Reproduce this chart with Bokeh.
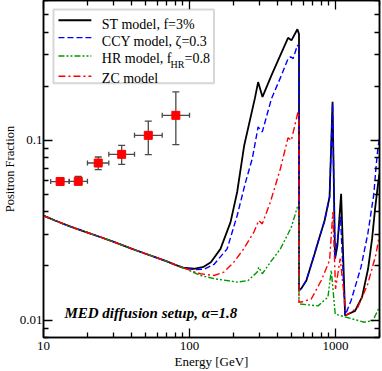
import math
from bokeh.plotting import figure
from bokeh.models import (LogAxis, FixedTicker, CustomJSTickFormatter, Whisker, TeeHead,
                          ColumnDataSource, Label, BoxAnnotation, Range1d, Title)
from bokeh.embed import file_html
from bokeh.resources import INLINE

# ---------------- data ----------------
common_E = [10, 12, 15, 20, 25, 30, 40, 50, 60, 70, 80, 90]
common_F = [0.0381, 0.0358, 0.0333, 0.0307, 0.0288, 0.0273, 0.0250, 0.0234, 0.0222, 0.0212, 0.0203, 0.0196]

st_E = [107, 125, 140, 163, 191, 212, 237, 280, 295, 316, 364, 404, 473, 499, 548, 562, 562,
        583, 631, 719, 759, 842, 910, 954, 992, 1030, 1092, 1163, 1361, 1520, 1671, 1779, 1866, 1955, 2000]
st_F = [0.0193, 0.0198, 0.0210, 0.0249, 0.0351, 0.0516, 0.094, 0.1706, 0.211, 0.1745, 0.230, 0.279,
        0.372, 0.360, 0.415, 0.39, 0.0146, 0.0150, 0.0166, 0.0234, 0.0272, 0.0358, 0.0484, 0.1637,
        0.0220, 0.0260, 0.0504, 0.0106, 0.01125, 0.01346, 0.0193, 0.0283, 0.0417, 0.0574, 0.065]

ccy_E = [107, 126, 147, 181, 212, 242, 269, 295, 315, 364, 426, 473, 493, 512, 548, 562, 562,
         583, 631, 719, 759, 842, 910, 954, 992, 1081, 1163, 1278, 1494, 1663, 1828, 1896, 1955, 2000]
ccy_F = [0.0191, 0.0192, 0.0204, 0.0249, 0.0382, 0.0586, 0.0791, 0.1188, 0.1114, 0.1706, 0.230,
         0.285, 0.292, 0.285, 0.338, 0.33, 0.0146, 0.0150, 0.0166, 0.0234, 0.0272, 0.0358, 0.0484,
         0.160, 0.0220, 0.0376, 0.0106, 0.01285, 0.0197, 0.0302, 0.050, 0.072, 0.092, 0.102]

hr_E = [107, 119, 149, 212, 252, 291, 298, 315, 358, 419, 473, 499, 548, 562, 562,
        759, 887, 935, 995, 1183, 1578, 1801, 1945, 2000]
hr_F = [0.0184, 0.0177, 0.01697, 0.01627, 0.0166, 0.0185, 0.0197, 0.0181, 0.0210, 0.0249, 0.0302,
        0.0330, 0.0426, 0.040, 0.0123, 0.0120, 0.0134, 0.0189, 0.0108, 0.01037, 0.00973, 0.00993,
        0.0113, 0.0118]

zc_E = [107, 119, 147, 172, 201, 235, 276, 298, 315, 358, 419, 473, 498, 553, 562, 562,
        583, 682, 798, 910, 959, 1000, 1076, 1183, 1422, 1663, 1896, 2000]
zc_F = [0.0186, 0.0181, 0.0177, 0.0185, 0.0210, 0.0249, 0.0309, 0.0358, 0.0343, 0.0454, 0.0695,
        0.1035, 0.100, 0.1439, 0.135, 0.0126, 0.0126, 0.0131, 0.0166, 0.0215, 0.0399, 0.0149,
        0.0220, 0.0106, 0.0118, 0.0159, 0.0234, 0.030]

data_E = [13.0, 17.3, 23.7, 34.3, 52.2, 80.6]
data_Elo = [11.2, 15.0, 20.0, 28.0, 42.0, 65.0]
data_Ehi = [15.0, 20.0, 28.0, 42.0, 65.0, 100.0]
data_F = [0.0590, 0.0592, 0.0748, 0.0836, 0.1066, 0.1378]
data_Flo = [0.0566, 0.0566, 0.0687, 0.0735, 0.0832, 0.0946]
data_Fhi = [0.0619, 0.0630, 0.0808, 0.0938, 0.128, 0.186]

labels = ["ST model, f=3%", "CCY model, \u03b6=0.3", "HR model, f", "ZC model"]
x_major = [10, 100, 1000]
x_minor = [20, 30, 40, 50, 60, 70, 80, 90, 200, 300, 400, 500, 600, 700, 800, 900, 2000]
y_major = [0.01, 0.1]
y_minor = [0.008, 0.009, 0.02, 0.03, 0.04, 0.05, 0.06, 0.07, 0.08, 0.09, 0.2, 0.3, 0.4, 0.5, 0.6]
x_lim = (10, 2000)
y_lim = (0.008, 0.6)

# ---------------- layout ----------------
W, H = 382, 371
BL, BR, BT, BB = 42, 3, 2, 33
FW, FH = W - BL - BR, H - BT - BB
X0, X1 = x_lim
Y0, Y1 = y_lim
FONT = "Liberation Serif"


def sx(px):
    lx0, lx1 = math.log10(X0), math.log10(X1)
    return 10 ** (lx0 + (px - BL) / FW * (lx1 - lx0))


def sy(py):
    ly0, ly1 = math.log10(Y0), math.log10(Y1)
    return 10 ** (ly1 - (py - BT) / FH * (ly1 - ly0))


p = figure(width=W, height=H, x_axis_type="log", y_axis_type="log",
           x_range=Range1d(X0, X1), y_range=Range1d(Y0, Y1),
           output_backend="svg", toolbar_location=None,
           min_border_left=BL, min_border_right=BR, min_border_top=0, min_border_bottom=BB)
p.xgrid.visible = False
p.ygrid.visible = False
p.outline_line_color = "black"
p.outline_line_width = 1.5
p.background_fill_color = "white"
p.border_fill_color = "white"

fmt = CustomJSTickFormatter(code="return String(parseFloat(tick.toPrecision(6)));")
blank = CustomJSTickFormatter(code="return '';")


def style_axis(ax, ticker, labels_on=True):
    ax.ticker = ticker
    ax.major_tick_in = 9
    ax.major_tick_out = 0
    ax.minor_tick_in = 5
    ax.minor_tick_out = 0
    ax.axis_line_color = "black"
    ax.axis_line_width = 1.5
    ax.major_tick_line_width = 1.3
    ax.minor_tick_line_width = 1.3
    ax.major_label_text_font = FONT
    ax.major_label_text_font_size = "13px"
    ax.major_label_text_color = "black"
    ax.axis_label_text_font = FONT
    ax.axis_label_text_font_size = "13px"
    ax.axis_label_text_font_style = "normal"
    ax.axis_label_text_color = "black"
    ax.formatter = fmt if labels_on else blank
    if not labels_on:
        ax.major_label_standoff = 0
        ax.major_label_text_font_size = "0px"
        ax.axis_label_standoff = 0


def xt():
    return FixedTicker(ticks=x_major, minor_ticks=x_minor)


def yt():
    return FixedTicker(ticks=y_major, minor_ticks=y_minor)


style_axis(p.xaxis[0], xt())
style_axis(p.yaxis[0], yt())
p.xaxis[0].axis_label = "Energy [GeV]"
p.xaxis[0].major_label_standoff = 4
p.xaxis[0].axis_label_standoff = 1
p.yaxis[0].major_label_standoff = 1

top = LogAxis()
style_axis(top, xt(), labels_on=False)
p.add_layout(top, "above")
right = LogAxis()
style_axis(right, yt(), labels_on=False)
p.add_layout(right, "right")

# y-axis title placed in the left panel
ytitle = Title(text="Positron Fraction", align="center", text_font=FONT, text_font_size="12.5px",
               text_font_style="normal", text_color="black", standoff=0, offset=0)
p.add_layout(ytitle, "left")

# ---------------- curves ----------------
models = [
    (common_E + st_E, common_F + st_F, "black", 1.8, "solid"),
    (common_E + ccy_E, common_F + ccy_F, "#0000ff", 1.4, "6 3"),
    (common_E + hr_E, common_F + hr_F, "#009a00", 1.4, "6 2 2 2 2 2"),
    (common_E + zc_E, common_F + zc_F, "#ff0000", 1.4, "7 3 2 3"),
]
for e, f, c, w, d in models:
    p.line(e, f, line_color=c, line_width=w, line_dash=d)

# ---------------- data points ----------------
src = ColumnDataSource(dict(E=data_E, Elo=data_Elo, Ehi=data_Ehi,
                            F=data_F, Flo=data_Flo, Fhi=data_Fhi))
ecol = "#4a4a4a"
wy = Whisker(source=src, base="E", lower="Flo", upper="Fhi", dimension="height",
             line_color=ecol, line_width=1.3, level="underlay",
             upper_head=TeeHead(size=7, line_color=ecol, line_width=1.3),
             lower_head=TeeHead(size=7, line_color=ecol, line_width=1.3))
wx = Whisker(source=src, base="F", lower="Elo", upper="Ehi", dimension="width",
             line_color=ecol, line_width=1.3, level="underlay",
             upper_head=TeeHead(size=5, line_color=ecol, line_width=1.3),
             lower_head=TeeHead(size=5, line_color=ecol, line_width=1.3))
p.add_layout(wy)
p.add_layout(wx)
p.scatter("E", "F", source=src, marker="square", size=8,
          fill_color="#ff0000", line_color="#ff0000")

# ---------------- legend (manual, to allow subscript) ----------------
box = BoxAnnotation(left=sx(52), right=sx(213), top=sy(11), bottom=sy(84.5),
                    fill_color="white", fill_alpha=1.0, line_color="#7a7a7a",
                    line_width=2, level="annotation")
p.add_layout(box)
sample_y = [21.7, 39.0, 57.3, 77.5]
text_base = [26.3, 43.0, 60.0, 80.0]
for (e, f, c, w, d), sy_px, tb, lab in zip(models, sample_y, text_base, labels):
    r = p.line([sx(57), sx(90)], [sy(sy_px), sy(sy_px)], line_color=c, line_width=w, line_dash=d)
    r.level = "overlay"
    lbl = Label(x=sx(100.5), y=sy(tb), text=lab, text_font=FONT, text_font_size="14px",
                text_color="black", text_baseline="alphabetic", text_align="left", level="overlay")
    p.add_layout(lbl)
p.add_layout(Label(x=sx(169.5), y=sy(65.5), text="HR", text_font=FONT, text_font_size="10px",
                   text_color="black", text_baseline="alphabetic", level="overlay"))
p.add_layout(Label(x=sx(183.5), y=sy(60.0), text="=0.8", text_font=FONT, text_font_size="14px",
                   text_color="black", text_baseline="alphabetic", level="overlay"))

p.add_layout(Label(x=sx(63), y=sy(313.5), text="MED diffusion setup, \u03b1=1.8", text_font=FONT,
                   text_font_size="15px", text_font_style="bold italic", text_color="black",
                   text_baseline="alphabetic"))

html = file_html(p, INLINE)
html = html.replace("<body>", '<body style="margin:0;overflow:hidden">', 1)
open("out.html", "w").write(html)
